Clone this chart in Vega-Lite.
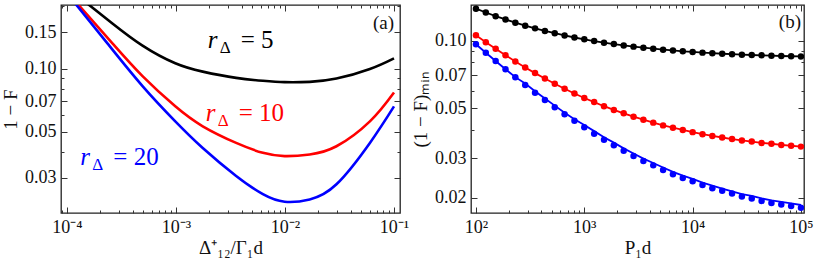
{
  "$schema": "https://vega.github.io/schema/vega-lite/v6.json",
  "background": "white",
  "padding": {"left": 0, "top": 3, "right": 0, "bottom": 0},
  "spacing": 0,
  "config": {
    "view": {"stroke": "#222", "strokeWidth": 1.3},
    "axis": {
      "labelFont": "'Liberation Serif', serif", "labelFontSize": 18, "labelColor": "#111",
      "titleFont": "'Liberation Serif', serif", "titleFontSize": 19, "titleFontWeight": "normal", "titleColor": "#111",
      "tickColor": "#333", "tickWidth": 1, "domain": false, "grid": false,
      "labelFlush": false, "labelOverlap": false
    },
    "text": {"font": "'Liberation Serif', serif"}
  },
  "datasets": {
    "curvesA": [
      {"x": 0.0001537, "y": 0.2062, "r": "5"},
      {"x": 0.0002611, "y": 0.1655, "r": "5"},
      {"x": 0.000493, "y": 0.1295, "r": "5"},
      {"x": 0.000985, "y": 0.1065, "r": "5"},
      {"x": 0.001759, "y": 0.0971, "r": "5"},
      {"x": 0.003563, "y": 0.0906, "r": "5"},
      {"x": 0.006269, "y": 0.0877, "r": "5"},
      {"x": 0.00992, "y": 0.0864, "r": "5"},
      {"x": 0.01685, "y": 0.0867, "r": "5"},
      {"x": 0.02965, "y": 0.0899, "r": "5"},
      {"x": 0.06008, "y": 0.1000, "r": "5"},
      {"x": 0.1, "y": 0.1125, "r": "5"},
      {"x": 0.0001244, "y": 0.2062, "r": "10"},
      {"x": 0.0002611, "y": 0.1327, "r": "10"},
      {"x": 0.000493, "y": 0.0923, "r": "10"},
      {"x": 0.000985, "y": 0.0661, "r": "10"},
      {"x": 0.001759, "y": 0.0530, "r": "10"},
      {"x": 0.003563, "y": 0.0441, "r": "10"},
      {"x": 0.006269, "y": 0.0395, "r": "10"},
      {"x": 0.00992, "y": 0.0381, "r": "10"},
      {"x": 0.01685, "y": 0.0388, "r": "10"},
      {"x": 0.02965, "y": 0.0425, "r": "10"},
      {"x": 0.06008, "y": 0.0560, "r": "10"},
      {"x": 0.1, "y": 0.0771, "r": "10"},
      {"x": 0.0001192, "y": 0.2062, "r": "20"},
      {"x": 0.0002349, "y": 0.1327, "r": "20"},
      {"x": 0.000493, "y": 0.0827, "r": "20"},
      {"x": 0.000985, "y": 0.0560, "r": "20"},
      {"x": 0.001759, "y": 0.0417, "r": "20"},
      {"x": 0.003563, "y": 0.0306, "r": "20"},
      {"x": 0.006269, "y": 0.0250, "r": "20"},
      {"x": 0.00992, "y": 0.0230, "r": "20"},
      {"x": 0.01685, "y": 0.0236, "r": "20"},
      {"x": 0.02965, "y": 0.0279, "r": "20"},
      {"x": 0.06008, "y": 0.0441, "r": "20"},
      {"x": 0.1, "y": 0.0661, "r": "20"}
    ],
    "labelsA": [
      {"x": 0.001954, "y": 0.1256, "r": "5", "eq": "= 5"},
      {"x": 0.001875, "y": 0.0562, "r": "10", "eq": "= 10"},
      {"x": 0.0001324, "y": 0.0346, "r": "20", "eq": "= 20"}
    ],
    "pointsB": [
      {"P": 100, "r": "5", "y": 0.1386}, {"P": 123.3, "r": "5", "y": 0.1333}, {"P": 152, "r": "5", "y": 0.1284}, {"P": 187.4, "r": "5", "y": 0.1241},
      {"P": 231, "r": "5", "y": 0.1201}, {"P": 284.8, "r": "5", "y": 0.1165}, {"P": 351.1, "r": "5", "y": 0.1133}, {"P": 432.9, "r": "5", "y": 0.1104},
      {"P": 533.7, "r": "5", "y": 0.1078}, {"P": 657.9, "r": "5", "y": 0.1054}, {"P": 811.1, "r": "5", "y": 0.1032}, {"P": 1000, "r": "5", "y": 0.1013},
      {"P": 1233, "r": "5", "y": 0.0995}, {"P": 1520, "r": "5", "y": 0.0979}, {"P": 1874, "r": "5", "y": 0.0965}, {"P": 2310, "r": "5", "y": 0.0952},
      {"P": 2848, "r": "5", "y": 0.0940}, {"P": 3511, "r": "5", "y": 0.0930}, {"P": 4329, "r": "5", "y": 0.0920}, {"P": 5337, "r": "5", "y": 0.0911},
      {"P": 6579, "r": "5", "y": 0.0904}, {"P": 8111, "r": "5", "y": 0.0896}, {"P": 10000, "r": "5", "y": 0.0890}, {"P": 12328, "r": "5", "y": 0.0884},
      {"P": 15199, "r": "5", "y": 0.0879}, {"P": 18738, "r": "5", "y": 0.0874}, {"P": 23101, "r": "5", "y": 0.0870}, {"P": 28480, "r": "5", "y": 0.0866},
      {"P": 35112, "r": "5", "y": 0.0863}, {"P": 43288, "r": "5", "y": 0.0860}, {"P": 53367, "r": "5", "y": 0.0857}, {"P": 65793, "r": "5", "y": 0.0854},
      {"P": 81113, "r": "5", "y": 0.0852}, {"P": 100000, "r": "5", "y": 0.0850},
      {"P": 100, "r": "10", "y": 0.1056}, {"P": 123.3, "r": "10", "y": 0.0984}, {"P": 152, "r": "10", "y": 0.0920}, {"P": 187.4, "r": "10", "y": 0.0861},
      {"P": 231, "r": "10", "y": 0.0808}, {"P": 284.8, "r": "10", "y": 0.0760}, {"P": 351.1, "r": "10", "y": 0.0717}, {"P": 432.9, "r": "10", "y": 0.0678},
      {"P": 533.7, "r": "10", "y": 0.0643}, {"P": 657.9, "r": "10", "y": 0.0611}, {"P": 811.1, "r": "10", "y": 0.0582}, {"P": 1000, "r": "10", "y": 0.0556},
      {"P": 1233, "r": "10", "y": 0.0533}, {"P": 1520, "r": "10", "y": 0.0511}, {"P": 1874, "r": "10", "y": 0.0492}, {"P": 2310, "r": "10", "y": 0.0475},
      {"P": 2848, "r": "10", "y": 0.0459}, {"P": 3511, "r": "10", "y": 0.0445}, {"P": 4329, "r": "10", "y": 0.0432}, {"P": 5337, "r": "10", "y": 0.0420},
      {"P": 6579, "r": "10", "y": 0.0410}, {"P": 8111, "r": "10", "y": 0.0401}, {"P": 10000, "r": "10", "y": 0.0392}, {"P": 12328, "r": "10", "y": 0.0384},
      {"P": 15199, "r": "10", "y": 0.0377}, {"P": 18738, "r": "10", "y": 0.0371}, {"P": 23101, "r": "10", "y": 0.0365}, {"P": 28480, "r": "10", "y": 0.0360},
      {"P": 35112, "r": "10", "y": 0.0356}, {"P": 43288, "r": "10", "y": 0.0351}, {"P": 53367, "r": "10", "y": 0.0348}, {"P": 65793, "r": "10", "y": 0.0344},
      {"P": 81113, "r": "10", "y": 0.0341}, {"P": 100000, "r": "10", "y": 0.0338},
      {"P": 100, "r": "20", "y": 0.0963, "fit": 0.0963}, {"P": 123.3, "r": "20", "y": 0.0883, "fit": 0.0883}, {"P": 152, "r": "20", "y": 0.0811, "fit": 0.0811}, {"P": 187.4, "r": "20", "y": 0.0746, "fit": 0.0746},
      {"P": 231, "r": "20", "y": 0.0688, "fit": 0.0688}, {"P": 284.8, "r": "20", "y": 0.0635, "fit": 0.0645}, {"P": 351.1, "r": "20", "y": 0.0587, "fit": 0.0596}, {"P": 432.9, "r": "20", "y": 0.0545, "fit": 0.0553},
      {"P": 533.7, "r": "20", "y": 0.0506, "fit": 0.0514}, {"P": 657.9, "r": "20", "y": 0.0471, "fit": 0.0478}, {"P": 811.1, "r": "20", "y": 0.0440, "fit": 0.0447}, {"P": 1000, "r": "20", "y": 0.0412, "fit": 0.0422},
      {"P": 1233, "r": "20", "y": 0.0386, "fit": 0.0396}, {"P": 1520, "r": "20", "y": 0.0363, "fit": 0.0372}, {"P": 1874, "r": "20", "y": 0.0343, "fit": 0.0352}, {"P": 2310, "r": "20", "y": 0.0324, "fit": 0.0332},
      {"P": 2848, "r": "20", "y": 0.0307, "fit": 0.0315}, {"P": 3511, "r": "20", "y": 0.0292, "fit": 0.0299}, {"P": 4329, "r": "20", "y": 0.0279, "fit": 0.0286}, {"P": 5337, "r": "20", "y": 0.0266, "fit": 0.0273},
      {"P": 6579, "r": "20", "y": 0.0255, "fit": 0.0261}, {"P": 8111, "r": "20", "y": 0.0245, "fit": 0.0251}, {"P": 10000, "r": "20", "y": 0.0237, "fit": 0.0243}, {"P": 12328, "r": "20", "y": 0.0228, "fit": 0.0234},
      {"P": 15199, "r": "20", "y": 0.0221, "fit": 0.0227}, {"P": 18738, "r": "20", "y": 0.0215, "fit": 0.0220}, {"P": 23101, "r": "20", "y": 0.0209, "fit": 0.0214}, {"P": 28480, "r": "20", "y": 0.0203, "fit": 0.0208},
      {"P": 35112, "r": "20", "y": 0.0199, "fit": 0.0204}, {"P": 43288, "r": "20", "y": 0.0194, "fit": 0.0199}, {"P": 53367, "r": "20", "y": 0.0190, "fit": 0.0195}, {"P": 65793, "r": "20", "y": 0.0187, "fit": 0.0192},
      {"P": 81113, "r": "20", "y": 0.0184, "fit": 0.0189}, {"P": 100000, "r": "20", "y": 0.0181, "fit": 0.0186}
    ],
    "panelA": [{"x": 0.1, "y": 0.1549, "label": "(a)"}],
    "panelB": [{"P": 100000, "y": 0.1138, "label": "(b)"}]
  },
  "hconcat": [
    {
      "width": 339,
      "height": 208,
      "resolve": {"axis": {"x": "independent", "y": "independent"}},
      "layer": [
        {
          "data": {"name": "curvesA"},
          "mark": {"type": "line", "clip": true, "strokeWidth": 2.6, "interpolate": "natural"},
          "encoding": {
            "x": {"field": "x", "type": "quantitative", "scale": {"type": "log", "domain": [0.0000881, 0.1135], "nice": false},
                  "axis": {"orient": "bottom", "values": [0.0001, 0.001, 0.01, 0.1], "tickSize": -6, "labelPadding": 11,
                           "labelExpr": "datum.value < 0.0005 ? '10⁻⁴' : datum.value < 0.005 ? '10⁻³' : datum.value < 0.05 ? '10⁻²' : '10⁻¹'",
                           "title": "Δ⁺₁₂/Γ₁d", "titlePadding": 2}},
            "y": {"field": "y", "type": "quantitative", "scale": {"type": "log", "domain": [0.0203, 0.203], "nice": false},
                  "axis": {"orient": "left", "values": [0.03, 0.05, 0.07, 0.1, 0.15], "format": ".2f", "tickSize": -6, "labelPadding": 11,
                           "title": "1 − F", "titlePadding": 4}},
            "color": {"field": "r", "type": "nominal", "scale": {"domain": ["5", "10", "20"], "range": ["#000000", "#ff0000", "#0000ff"]}, "legend": null}
          }
        },
        {
          "data": {"name": "labelsA"},
          "mark": {"type": "text", "text": "r", "fontStyle": "italic", "fontSize": 25, "align": "left", "baseline": "alphabetic"},
          "encoding": {
            "x": {"field": "x", "type": "quantitative", "axis": {"orient": "bottom", "labels": false, "title": null, "tickSize": -3,
                  "values": [0.00009, 0.0002, 0.0003, 0.0004, 0.0005, 0.0006, 0.0007, 0.0008, 0.0009, 0.002, 0.003, 0.004, 0.005, 0.006, 0.007, 0.008, 0.009, 0.02, 0.03, 0.04, 0.05, 0.06, 0.07, 0.08, 0.09]}},
            "y": {"field": "y", "type": "quantitative", "axis": {"orient": "left", "labels": false, "title": null, "tickSize": -3, "values": [0.04, 0.06, 0.08, 0.09, 0.2]}},
            "color": {"field": "r", "type": "nominal", "legend": null}
          }
        },
        {
          "data": {"name": "labelsA"},
          "mark": {"type": "text", "text": "Δ", "fontSize": 17, "align": "left", "baseline": "alphabetic", "dx": 12, "dy": 5},
          "encoding": {
            "x": {"field": "x", "type": "quantitative", "axis": {"orient": "top", "labels": false, "title": null, "tickSize": -6, "values": [0.0001, 0.001, 0.01, 0.1]}},
            "y": {"field": "y", "type": "quantitative", "axis": {"orient": "right", "labels": false, "title": null, "tickSize": -6, "values": [0.03, 0.05, 0.07, 0.1, 0.15]}},
            "color": {"field": "r", "type": "nominal", "legend": null}
          }
        },
        {
          "data": {"name": "labelsA"},
          "mark": {"type": "text", "fontSize": 25, "align": "left", "baseline": "alphabetic", "dx": 33},
          "encoding": {
            "text": {"field": "eq"},
            "x": {"field": "x", "type": "quantitative", "axis": {"orient": "top", "labels": false, "title": null, "tickSize": -3,
                  "values": [0.00009, 0.0002, 0.0003, 0.0004, 0.0005, 0.0006, 0.0007, 0.0008, 0.0009, 0.002, 0.003, 0.004, 0.005, 0.006, 0.007, 0.008, 0.009, 0.02, 0.03, 0.04, 0.05, 0.06, 0.07, 0.08, 0.09]}},
            "y": {"field": "y", "type": "quantitative", "axis": {"orient": "right", "labels": false, "title": null, "tickSize": -3, "values": [0.04, 0.06, 0.08, 0.09, 0.2]}},
            "color": {"field": "r", "type": "nominal", "legend": null}
          }
        },
        {
          "data": {"name": "panelA"},
          "mark": {"type": "text", "fontSize": 19, "align": "right", "baseline": "alphabetic", "color": "#111"},
          "encoding": {
            "text": {"field": "label"},
            "x": {"field": "x", "type": "quantitative", "axis": null},
            "y": {"field": "y", "type": "quantitative", "axis": null}
          }
        }
      ]
    },
    {
      "width": 333,
      "height": 208,
      "resolve": {"axis": {"x": "independent", "y": "independent"}},
      "layer": [
        {
          "data": {"name": "pointsB"},
          "transform": [{"filter": "datum.r != '20'"}],
          "mark": {"type": "line", "strokeWidth": 1.8, "clip": true},
          "encoding": {
            "x": {"field": "P", "type": "quantitative", "scale": {"type": "log", "domain": [90, 106600], "nice": false},
                  "axis": {"orient": "bottom", "values": [100, 1000, 10000, 100000], "tickSize": -6, "labelPadding": 11,
                           "labelExpr": "datum.value < 500 ? '10²' : datum.value < 5000 ? '10³' : datum.value < 50000 ? '10⁴' : '10⁵'",
                           "title": "P₁d", "titlePadding": 2}},
            "y": {"field": "y", "type": "quantitative", "scale": {"type": "log", "domain": [0.01714, 0.1439], "nice": false},
                  "axis": {"orient": "left", "values": [0.02, 0.03, 0.05, 0.07, 0.1], "format": ".2f", "tickSize": -6, "labelPadding": 11,
                           "title": "(1 − F)ₘᵢₙ", "titlePadding": 4}},
            "color": {"field": "r", "type": "nominal", "scale": {"domain": ["5", "10", "20"], "range": ["#000000", "#ff0000", "#0000ff"]}, "legend": null}
          }
        },
        {
          "data": {"name": "pointsB"},
          "transform": [{"filter": "datum.r == '20'"}],
          "mark": {"type": "line", "strokeWidth": 1.8, "clip": true},
          "encoding": {
            "x": {"field": "P", "type": "quantitative", "axis": {"orient": "top", "labels": false, "title": null, "tickSize": -3,
                  "values": [200, 300, 400, 500, 600, 700, 800, 900, 2000, 3000, 4000, 5000, 6000, 7000, 8000, 9000, 20000, 30000, 40000, 50000, 60000, 70000, 80000, 90000]}},
            "y": {"field": "fit", "type": "quantitative", "axis": {"orient": "right", "labels": false, "title": null, "tickSize": -3, "values": [0.04, 0.06, 0.08, 0.09]}},
            "color": {"field": "r", "type": "nominal", "legend": null}
          }
        },
        {
          "data": {"name": "pointsB"},
          "mark": {"type": "circle", "size": 42, "opacity": 1, "clip": true},
          "encoding": {
            "x": {"field": "P", "type": "quantitative", "axis": {"orient": "bottom", "labels": false, "title": null, "tickSize": -3,
                  "values": [200, 300, 400, 500, 600, 700, 800, 900, 2000, 3000, 4000, 5000, 6000, 7000, 8000, 9000, 20000, 30000, 40000, 50000, 60000, 70000, 80000, 90000]}},
            "y": {"field": "y", "type": "quantitative", "axis": {"orient": "left", "labels": false, "title": null, "tickSize": -3, "values": [0.04, 0.06, 0.08, 0.09]}},
            "color": {"field": "r", "type": "nominal", "legend": null}
          }
        },
        {
          "data": {"name": "panelB"},
          "mark": {"type": "text", "fontSize": 19, "align": "right", "baseline": "alphabetic", "color": "#111"},
          "encoding": {
            "text": {"field": "label"},
            "x": {"field": "P", "type": "quantitative", "axis": {"orient": "top", "labels": false, "title": null, "tickSize": -6, "values": [100, 1000, 10000, 100000]}},
            "y": {"field": "y", "type": "quantitative", "axis": {"orient": "right", "labels": false, "title": null, "tickSize": -6, "values": [0.02, 0.03, 0.05, 0.07, 0.1]}}
          }
        }
      ]
    }
  ]
}
